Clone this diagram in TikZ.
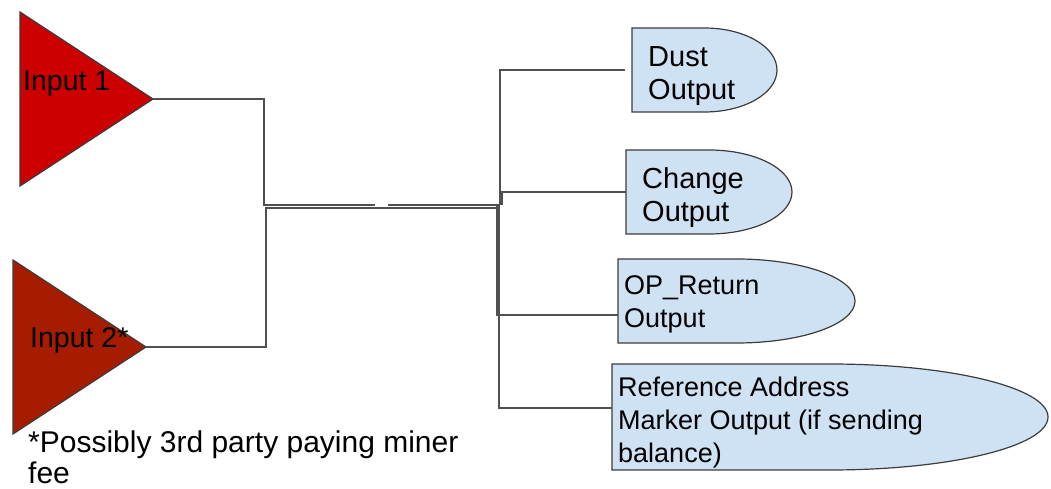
\documentclass[tikz,border=0pt]{standalone}
\usepackage{fontspec}
\setmainfont{Liberation Sans}
\usepackage{xcolor}
\usetikzlibrary{shapes.geometric,calc,backgrounds}

\definecolor{redA}{HTML}{CC0000}
\definecolor{redB}{HTML}{A61C00}
\definecolor{outblue}{HTML}{CFE2F3}
\definecolor{edgegray}{HTML}{3C3C3C}
\definecolor{wiregray}{HTML}{505050}

\tikzset{
  input/.style={isosceles triangle, isosceles triangle stretches, draw=edgegray,
    line width=1.2pt, inner sep=0pt, outer sep=0pt, minimum width=174pt, minimum height=133pt},
  inlabel/.style={anchor=base west, inner sep=0pt, font=\fontsize{28.5}{33}\selectfont},
  outbox/.style 2 args={rectangle, inner sep=0pt, outer sep=0pt,
    minimum width=#1, minimum height=#2},
  outtext/.style={anchor=north west, inner sep=0pt, align=left,
    font=\fontsize{27}{33}\selectfont},
  bigtext/.style={font=\fontsize{29}{33}\selectfont},
  outline/.style={draw=edgegray, fill=outblue, line width=1.2pt},
  wire/.style={draw=wiregray, line width=1.4pt}
}

\newcommand\outshape[1]{%
  \draw[outline] let \p1=(#1.north), \p2=(#1.east), \p3=(#1.south) in
    (#1.north west) -- (\p1)
    arc[start angle=90, end angle=-90, x radius={\x2-\x1}, y radius={(\y1-\y3)/2}]
    -- (#1.south west) -- cycle;}

\begin{document}
\begin{tikzpicture}[x=1pt,y=1pt]
    \useasboundingbox (0,0) rectangle (1051,489);

    \node[input, fill=redA, anchor=apex] (in1) at (153,390) {};
    \node[input, fill=redB, anchor=apex] (in2) at (146,142) {};
    \node[inlabel] (in1lbl) at (23,398) {Input 1};
    \node[inlabel] (in2lbl) at (30,141) {Input 2*};

    \node[outbox={145pt}{84pt}] (dust) at (704.5,419) {};
    \node[outbox={166pt}{84pt}] (change) at (709,297) {};
    \node[outbox={237pt}{84pt}] (opret) at (736.5,188) {};
    \node[outbox={436pt}{106pt}] (refaddr) at (830,72) {};
    \foreach \o in {dust,change,opret,refaddr} {\outshape{\o}}

    \node[outtext, bigtext] (dusttxt) at ([xshift=16pt,yshift=-18pt]dust.north west) {Dust\\Output};
    \node[outtext, bigtext] (changetxt) at ([xshift=16pt,yshift=-17pt]change.north west) {Change\\Output};
    \node[outtext] (opretxt) at ([xshift=6pt,yshift=-16pt]opret.north west) {OP\_Return\\Output};
    \node[outtext] (reftxt) at ([xshift=6pt,yshift=-13pt]refaddr.north west)
        {Reference Address\\Marker Output (if sending\\balance)};

    \coordinate (j1) at (264,284);
    \coordinate (j2) at (266,281);
    \coordinate (hub) at (500,284);
    \draw[wire] (in1.apex) -| (j1) -- ++(111,0);
    \draw[wire] (hub) -- ++(-112,0);
    \draw[wire] (in2.apex) -| (j2) -- (hub |- j2);
    \draw[wire] (hub) |- ([xshift=-7pt]dust.west);
    \draw[wire] ([xshift=2pt]hub) |- (change.west);
    \draw[wire] ([xshift=-3pt]hub) |- ([yshift=-14pt]opret.west);
    \draw[wire] ([xshift=-1pt]hub) |- ([yshift=9pt]refaddr.west);

    \node[anchor=base west, inner sep=0pt, align=left, font=\fontsize{30}{31}\selectfont]
        (note) at (28,5) {*Possibly 3rd party paying miner\\fee};
\end{tikzpicture}
\end{document}
